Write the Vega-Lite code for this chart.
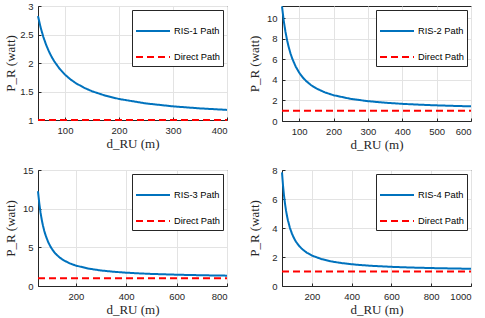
{
  "$schema": "https://vega.github.io/schema/vega-lite/v6.json",
  "padding": {"left": 3, "top": 0, "right": 2, "bottom": 2},
  "background": "white",
  "config": {
    "font": "Liberation Sans",
    "view": {"stroke": "#262626", "strokeWidth": 1},
    "axis": {
      "domainColor": "#262626", "tickColor": "#262626", "labelColor": "#262626",
      "labelFont": "Liberation Sans", "labelFontSize": 9.5, "gridColor": "#e3e3e3",
      "titleFont": "Liberation Serif", "titleFontSize": 13, "titleFontWeight": "normal",
      "titleColor": "#262626", "tickSize": -3, "labelPadding": 8, "format": ".6~g"
    },
    "axisY": {"titlePadding": 3, "minExtent": 18, "maxExtent": 18},
    "axisX": {"titlePadding": 3},
    "legend": {
      "orient": "top-right", "offset": 4, "strokeColor": "#262626", "fillColor": "white",
      "padding": 3, "labelFont": "Liberation Sans", "labelFontSize": 9.3, "labelColor": "black",
      "symbolType": "stroke", "symbolSize": 1156, "symbolStrokeWidth": 2, "rowPadding": 2,
      "labelOffset": 3, "cornerRadius": 0
    }
  },
  "vconcat": [
    {
      "hconcat": [
        {
          "width": 189, "height": 114,
          "data": {"values": [
            {"d": 50, "p": 2.8224, "s": "RIS-1 Path"}, {"d": 55, "p": 2.6185, "s": "RIS-1 Path"},
            {"d": 60, "p": 2.4544, "s": "RIS-1 Path"}, {"d": 65, "p": 2.3198, "s": "RIS-1 Path"},
            {"d": 70, "p": 2.2073, "s": "RIS-1 Path"}, {"d": 75, "p": 2.1122, "s": "RIS-1 Path"},
            {"d": 80, "p": 2.0306, "s": "RIS-1 Path"}, {"d": 90, "p": 1.8983, "s": "RIS-1 Path"},
            {"d": 100, "p": 1.7956, "s": "RIS-1 Path"}, {"d": 110, "p": 1.7137, "s": "RIS-1 Path"},
            {"d": 120, "p": 1.6469, "s": "RIS-1 Path"}, {"d": 135, "p": 1.5671, "s": "RIS-1 Path"},
            {"d": 150, "p": 1.5047, "s": "RIS-1 Path"}, {"d": 175, "p": 1.4263, "s": "RIS-1 Path"},
            {"d": 200, "p": 1.3689, "s": "RIS-1 Path"}, {"d": 250, "p": 1.2905, "s": "RIS-1 Path"},
            {"d": 300, "p": 1.2395, "s": "RIS-1 Path"}, {"d": 350, "p": 1.2037, "s": "RIS-1 Path"},
            {"d": 400, "p": 1.1772, "s": "RIS-1 Path"},
            {"d": 50, "p": 1, "s": "Direct Path"}, {"d": 400, "p": 1, "s": "Direct Path"}
          ]},
          "mark": {"type": "line", "strokeWidth": 2},
          "encoding": {
            "x": {"field": "d", "type": "quantitative", "scale": {"domain": [50, 400], "nice": false, "zero": false}, "axis": {"values": [100, 200, 300, 400], "title": "d_RU (m)"}},
            "y": {"field": "p", "type": "quantitative", "scale": {"domain": [1, 3], "nice": false, "zero": false}, "axis": {"values": [1, 1.5, 2, 2.5, 3], "title": "P_R (watt)"}},
            "color": {"field": "s", "type": "nominal", "scale": {"domain": ["RIS-1 Path", "Direct Path"], "range": ["#0072BD", "#FF0000"]}, "legend": {"title": null}},
            "strokeDash": {"field": "s", "type": "nominal", "scale": {"domain": ["RIS-1 Path", "Direct Path"], "range": [[1, 0], [7, 4]]}, "legend": {"title": null}}
          }
        },
        {
          "width": 189, "height": 115,
          "data": {"values": [
            {"d": 50, "p": 11.1556, "s": "RIS-2 Path"}, {"d": 55, "p": 9.7798, "s": "RIS-2 Path"},
            {"d": 60, "p": 8.7025, "s": "RIS-2 Path"}, {"d": 65, "p": 7.84, "s": "RIS-2 Path"},
            {"d": 70, "p": 7.1365, "s": "RIS-2 Path"}, {"d": 75, "p": 6.5536, "s": "RIS-2 Path"},
            {"d": 80, "p": 6.0639, "s": "RIS-2 Path"}, {"d": 90, "p": 5.29, "s": "RIS-2 Path"},
            {"d": 100, "p": 4.7089, "s": "RIS-2 Path"}, {"d": 110, "p": 4.2586, "s": "RIS-2 Path"},
            {"d": 120, "p": 3.9006, "s": "RIS-2 Path"}, {"d": 135, "p": 3.4844, "s": "RIS-2 Path"},
            {"d": 150, "p": 3.1684, "s": "RIS-2 Path"}, {"d": 175, "p": 2.7841, "s": "RIS-2 Path"},
            {"d": 200, "p": 2.5122, "s": "RIS-2 Path"}, {"d": 250, "p": 2.155, "s": "RIS-2 Path"},
            {"d": 300, "p": 1.9321, "s": "RIS-2 Path"}, {"d": 350, "p": 1.7803, "s": "RIS-2 Path"},
            {"d": 400, "p": 1.6706, "s": "RIS-2 Path"}, {"d": 450, "p": 1.5876, "s": "RIS-2 Path"},
            {"d": 500, "p": 1.5228, "s": "RIS-2 Path"}, {"d": 550, "p": 1.4707, "s": "RIS-2 Path"},
            {"d": 600, "p": 1.428, "s": "RIS-2 Path"},
            {"d": 50, "p": 1, "s": "Direct Path"}, {"d": 600, "p": 1, "s": "Direct Path"}
          ]},
          "mark": {"type": "line", "strokeWidth": 2},
          "encoding": {
            "x": {"field": "d", "type": "quantitative", "scale": {"domain": [50, 600], "nice": false, "zero": false}, "axis": {"values": [100, 200, 300, 400, 500, 600], "title": "d_RU (m)"}},
            "y": {"field": "p", "type": "quantitative", "scale": {"domain": [0, 11.2], "nice": false, "zero": false}, "axis": {"values": [0, 2, 4, 6, 8, 10], "title": "P_R (watt)"}},
            "color": {"field": "s", "type": "nominal", "scale": {"domain": ["RIS-2 Path", "Direct Path"], "range": ["#0072BD", "#FF0000"]}, "legend": {"title": null}},
            "strokeDash": {"field": "s", "type": "nominal", "scale": {"domain": ["RIS-2 Path", "Direct Path"], "range": [[1, 0], [7, 4]]}, "legend": {"title": null}}
          }
        }
      ],
      "spacing": 15,
      "resolve": {"scale": {"color": "independent", "strokeDash": "independent"}, "legend": {"color": "independent", "strokeDash": "independent"}}
    },
    {
      "hconcat": [
        {
          "width": 189, "height": 116,
          "data": {"values": [
            {"d": 50, "p": 12.25, "s": "RIS-3 Path"}, {"d": 55, "p": 10.7107, "s": "RIS-3 Path"},
            {"d": 60, "p": 9.5069, "s": "RIS-3 Path"}, {"d": 65, "p": 8.5444, "s": "RIS-3 Path"},
            {"d": 70, "p": 7.7602, "s": "RIS-3 Path"}, {"d": 75, "p": 7.1111, "s": "RIS-3 Path"},
            {"d": 80, "p": 6.5664, "s": "RIS-3 Path"}, {"d": 90, "p": 5.7068, "s": "RIS-3 Path"},
            {"d": 100, "p": 5.0625, "s": "RIS-3 Path"}, {"d": 110, "p": 4.564, "s": "RIS-3 Path"},
            {"d": 120, "p": 4.1684, "s": "RIS-3 Path"}, {"d": 135, "p": 3.7092, "s": "RIS-3 Path"},
            {"d": 150, "p": 3.3611, "s": "RIS-3 Path"}, {"d": 175, "p": 2.9388, "s": "RIS-3 Path"},
            {"d": 200, "p": 2.6406, "s": "RIS-3 Path"}, {"d": 250, "p": 2.25, "s": "RIS-3 Path"},
            {"d": 300, "p": 2.0069, "s": "RIS-3 Path"}, {"d": 350, "p": 1.8418, "s": "RIS-3 Path"},
            {"d": 400, "p": 1.7227, "s": "RIS-3 Path"}, {"d": 450, "p": 1.6327, "s": "RIS-3 Path"},
            {"d": 500, "p": 1.5625, "s": "RIS-3 Path"}, {"d": 600, "p": 1.4601, "s": "RIS-3 Path"},
            {"d": 700, "p": 1.389, "s": "RIS-3 Path"}, {"d": 800, "p": 1.3369, "s": "RIS-3 Path"},
            {"d": 50, "p": 1, "s": "Direct Path"}, {"d": 800, "p": 1, "s": "Direct Path"}
          ]},
          "mark": {"type": "line", "strokeWidth": 2},
          "encoding": {
            "x": {"field": "d", "type": "quantitative", "scale": {"domain": [50, 800], "nice": false, "zero": false}, "axis": {"values": [200, 400, 600, 800], "title": "d_RU (m)"}},
            "y": {"field": "p", "type": "quantitative", "scale": {"domain": [0, 15], "nice": false, "zero": false}, "axis": {"values": [0, 5, 10, 15], "title": "P_R (watt)"}},
            "color": {"field": "s", "type": "nominal", "scale": {"domain": ["RIS-3 Path", "Direct Path"], "range": ["#0072BD", "#FF0000"]}, "legend": {"title": null}},
            "strokeDash": {"field": "s", "type": "nominal", "scale": {"domain": ["RIS-3 Path", "Direct Path"], "range": [[1, 0], [7, 4]]}, "legend": {"title": null}}
          }
        },
        {
          "width": 189, "height": 116,
          "data": {"values": [
            {"d": 50, "p": 7.84, "s": "RIS-4 Path"}, {"d": 55, "p": 6.9504, "s": "RIS-4 Path"},
            {"d": 60, "p": 6.25, "s": "RIS-4 Path"}, {"d": 65, "p": 5.6864, "s": "RIS-4 Path"},
            {"d": 70, "p": 5.2245, "s": "RIS-4 Path"}, {"d": 75, "p": 4.84, "s": "RIS-4 Path"},
            {"d": 80, "p": 4.5156, "s": "RIS-4 Path"}, {"d": 90, "p": 4.0, "s": "RIS-4 Path"},
            {"d": 100, "p": 3.61, "s": "RIS-4 Path"}, {"d": 110, "p": 3.3058, "s": "RIS-4 Path"},
            {"d": 120, "p": 3.0625, "s": "RIS-4 Path"}, {"d": 135, "p": 2.7778, "s": "RIS-4 Path"},
            {"d": 150, "p": 2.56, "s": "RIS-4 Path"}, {"d": 175, "p": 2.2931, "s": "RIS-4 Path"},
            {"d": 200, "p": 2.1025, "s": "RIS-4 Path"}, {"d": 250, "p": 1.8496, "s": "RIS-4 Path"},
            {"d": 300, "p": 1.69, "s": "RIS-4 Path"}, {"d": 350, "p": 1.5804, "s": "RIS-4 Path"},
            {"d": 400, "p": 1.5006, "s": "RIS-4 Path"}, {"d": 450, "p": 1.44, "s": "RIS-4 Path"},
            {"d": 500, "p": 1.3924, "s": "RIS-4 Path"}, {"d": 600, "p": 1.3225, "s": "RIS-4 Path"},
            {"d": 700, "p": 1.2737, "s": "RIS-4 Path"}, {"d": 800, "p": 1.2377, "s": "RIS-4 Path"},
            {"d": 900, "p": 1.21, "s": "RIS-4 Path"}, {"d": 1000, "p": 1.1881, "s": "RIS-4 Path"},
            {"d": 50, "p": 1, "s": "Direct Path"}, {"d": 1000, "p": 1, "s": "Direct Path"}
          ]},
          "mark": {"type": "line", "strokeWidth": 2},
          "encoding": {
            "x": {"field": "d", "type": "quantitative", "scale": {"domain": [50, 1000], "nice": false, "zero": false}, "axis": {"values": [200, 400, 600, 800, 1000], "title": "d_RU (m)"}},
            "y": {"field": "p", "type": "quantitative", "scale": {"domain": [0, 8], "nice": false, "zero": false}, "axis": {"values": [0, 2, 4, 6, 8], "title": "P_R (watt)"}},
            "color": {"field": "s", "type": "nominal", "scale": {"domain": ["RIS-4 Path", "Direct Path"], "range": ["#0072BD", "#FF0000"]}, "legend": {"title": null}},
            "strokeDash": {"field": "s", "type": "nominal", "scale": {"domain": ["RIS-4 Path", "Direct Path"], "range": [[1, 0], [7, 4]]}, "legend": {"title": null}}
          }
        }
      ],
      "spacing": 15,
      "resolve": {"scale": {"color": "independent", "strokeDash": "independent"}, "legend": {"color": "independent", "strokeDash": "independent"}}
    }
  ],
  "spacing": 12,
  "resolve": {"scale": {"color": "independent", "strokeDash": "independent"}, "legend": {"color": "independent", "strokeDash": "independent"}}
}
